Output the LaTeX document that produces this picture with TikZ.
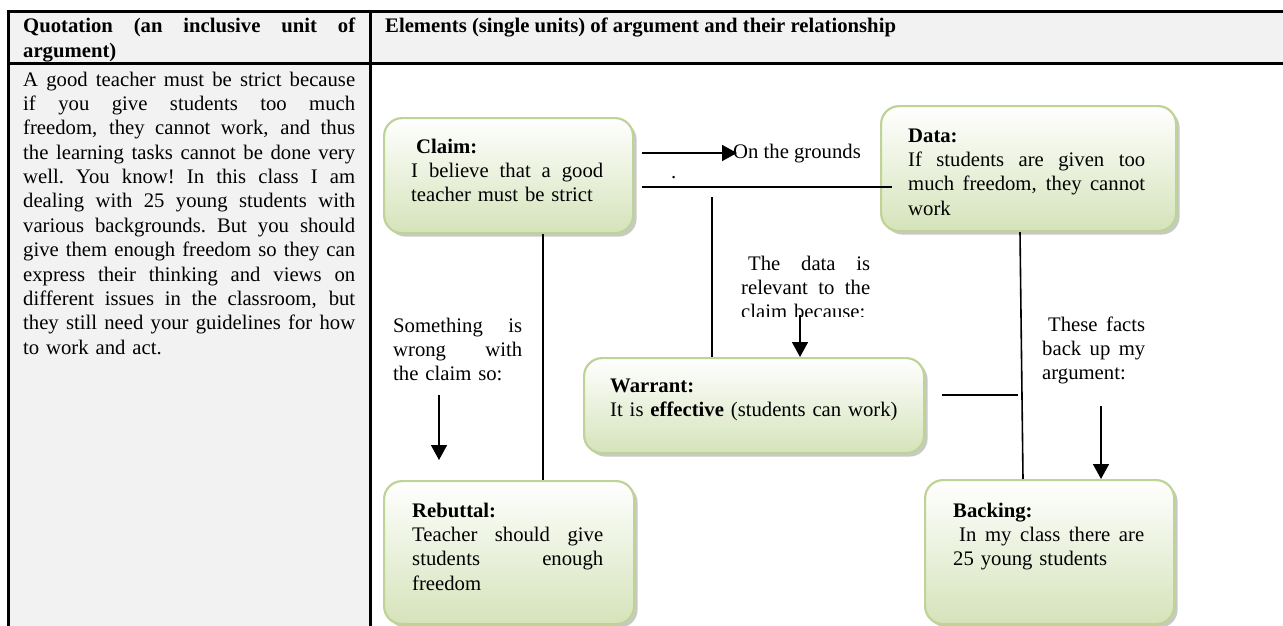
\documentclass[tikz,border=0pt]{standalone}
\usepackage{fontspec}
\setmainfont{Liberation Serif}
\usetikzlibrary{arrows.meta,shadows}
\definecolor{cellgray}{HTML}{F2F2F2}
\definecolor{boxline}{HTML}{BFD396}
\definecolor{boxfill}{HTML}{D5E3BA}
\definecolor{boxshadow}{HTML}{8F9585}
% one justified line of the given width: the word spaces take up the slack
\newcommand\jl[2]{\leavevmode\hbox to #1{\spaceskip=0.25em plus 1fil\relax
  \xspaceskip=0.25em plus 1fil\relax #2}}
\begin{document}
\begin{tikzpicture}[x=1pt,y=-1pt,
  rule/.style={line width=3pt},
  gbox/.style={draw=boxline, line width=2.2pt, rounded corners=18pt,
    top color=white, bottom color=boxfill,
    drop shadow={shadow xshift=3.5pt,shadow yshift=-3.5pt,fill=boxshadow},
    inner sep=0pt, anchor=north west},
  txt/.style={anchor=base west, inner sep=0pt, font=\fontsize{20.7}{24.4}\selectfont},
  conn/.style={line width=1.6pt},
  arr/.style={conn, -{Triangle[length=15pt,width=16pt]}},
]
\useasboundingbox (0,0) rectangle (1283,626);

% table cells and rules
\fill[cellgray] (8.5,11.5) rectangle (1283,63.5);
\fill[cellgray] (8.5,63.5) rectangle (370.5,626);
\draw[rule] (7,11.5) -- (1283,11.5);
\draw[rule] (7,63.5) -- (1283,63.5);
\draw[rule] (8.5,10) -- (8.5,626);
\draw[rule] (370.5,10) -- (370.5,626);

% header row
\node[txt, text width=332pt] (qhead) at (23,33)
  {\bfseries\jl{332pt}{Quotation (an inclusive unit of}\\ argument)};
\node[txt] (ehead) at (385,33)
  {\bfseries Elements (single units) of argument and their relationship};

% quotation
\node[txt, text width=332pt] (quote) at (23,86) {%
\jl{332pt}{A good teacher must be strict because}\\
\jl{332pt}{if you give students too much}\\
\jl{332pt}{freedom, they cannot work, and thus}\\
\jl{332pt}{the learning tasks cannot be done very}\\
\jl{332pt}{well. You know! In this class I am}\\
\jl{332pt}{dealing with 25 young students with}\\
\jl{332pt}{various backgrounds. But you should}\\
\jl{332pt}{give them enough freedom so they can}\\
\jl{332pt}{express their thinking and views on}\\
\jl{332pt}{different issues in the classroom, but}\\
\jl{332pt}{they still need your guidelines for how}\\
to work and act.};

% element boxes
\node[gbox, minimum width=249pt, minimum height=115pt] (claimbox) at (383,117) {};
\node[gbox, minimum width=295pt, minimum height=125pt] (databox) at (880,105) {};
\node[gbox, minimum width=340pt, minimum height=95pt] (warrantbox) at (583,357) {};
\node[gbox, minimum width=250pt, minimum height=143pt] (rebuttalbox) at (383,480) {};
\node[gbox, minimum width=249pt, minimum height=144pt] (backingbox) at (924,479) {};

% box texts
\node[txt, text width=192pt] (claim) at (411,153)
  {\hspace*{5pt}\textbf{Claim:}\\ \jl{192pt}{I believe that a good}\\ teacher must be strict};
\begin{scope}
  \clip (880,105) rectangle (1175,217);
  \node[txt, text width=237pt] (data) at (908,142)
    {\textbf{Data:}\\ \jl{237pt}{If students are given too}\\
     \jl{237pt}{much freedom, they cannot}\\ work};
\end{scope}
\node[txt, text width=300pt] (warrant) at (610,392)
  {\textbf{Warrant:}\\ It is \textbf{effective} (students can work)};
\node[txt, text width=191pt] (rebuttal) at (412,517)
  {\textbf{Rebuttal:}\\ \jl{191pt}{Teacher should give}\\ \jl{191pt}{students enough}\\ freedom};
\node[txt, text width=191pt] (backing) at (953,517)
  {\textbf{Backing:}\\ \jl{191pt}{\hspace*{6pt}In my class there are}\\ 25 young students};

% relation labels
\node[txt, text width=129pt] (wrong) at (393,332)
  {\jl{129pt}{Something is}\\ \jl{129pt}{wrong with}\\ the claim so:};
\begin{scope}
  \clip (730,250) rectangle (880,316);
  \node[txt, text width=129pt] (relevant) at (741,270)
    {\jl{129pt}{\hspace*{7pt}The data is}\\ \jl{129pt}{relevant to the}\\ claim because:};
\end{scope}
\node[txt, text width=103pt] (backup) at (1042,331)
  {\jl{103pt}{\hspace*{6pt}These facts}\\ \jl{103pt}{back up my}\\ argument:};
\node[txt] (grounds) at (733,158) {On the grounds};
\node[txt] (dot) at (671,178) {.};

% connectors
\coordinate (g0) at (642,153);
\coordinate (g1) at (737,153);
\draw[arr] (g0) -- (g1);
\coordinate (h0) at (642,187);
\coordinate (h1) at (892,187);
\draw[conn] (h0) -- (h1);
\coordinate (v0) at (712,197);
\draw[conn] (v0) -- (v0 |- warrantbox.north);
\coordinate (cx) at (543,0);
\draw[conn] (cx |- claimbox.south) -- (cx |- rebuttalbox.north);
\coordinate (a0) at (439,395);
\coordinate (a1) at (439,460);
\draw[arr] (a0) -- (a1);
\coordinate (w0) at (800,315);
\draw[arr] (w0) -- (w0 |- warrantbox.north);
\coordinate (k0) at (942,395);
\coordinate (k1) at (1018,395);
\draw[conn] (k0) -- (k1);
\coordinate (d0) at (1020,0);
\coordinate (d1) at (1023,0);
\draw[conn] (d0 |- databox.south) -- (d1 |- backingbox.north);
\coordinate (b0) at (1101,406);
\draw[arr] (b0) -- (b0 |- backingbox.north);
\end{tikzpicture}
\end{document}
